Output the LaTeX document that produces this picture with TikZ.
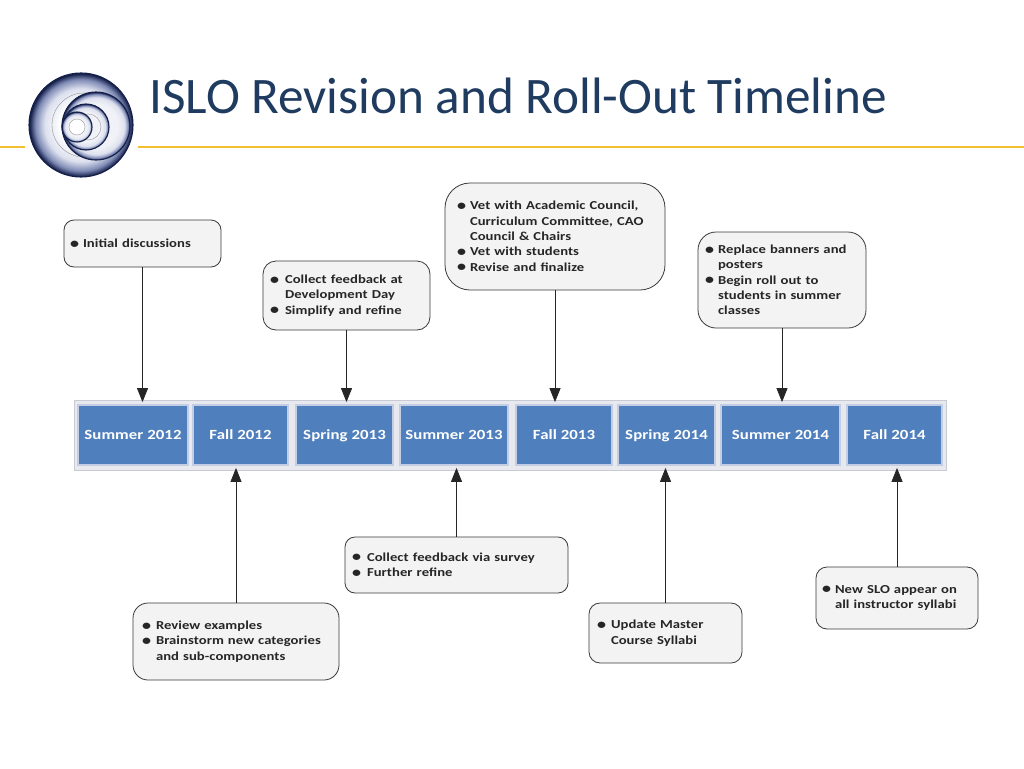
\documentclass[tikz,border=0pt]{standalone}
\usepackage{fontspec}
\setmainfont{Carlito}
\newfontfamily\bodyf[FakeStretch=1.2,LetterSpace=0.5]{Carlito}
\usetikzlibrary{arrows.meta}
\definecolor{titleblue}{HTML}{1F3B5F}
\definecolor{rulegold}{HTML}{F2BF2E}
\definecolor{cellblue}{HTML}{4F7FBC}
\definecolor{cellglow}{HTML}{C3CEE4}
\definecolor{stripfill}{HTML}{E8E9EF}
\definecolor{stripline}{HTML}{C8CAD4}
\definecolor{bubblefill}{HTML}{F3F3F3}
\definecolor{bubbleline}{HTML}{3A3A3A}
\definecolor{logodark}{HTML}{15204A}
\definecolor{logomid}{HTML}{7F8BB6}
\definecolor{logolight}{HTML}{DDE1EE}
\definecolor{logopale}{HTML}{F0F2F7}
\pgfdeclareradialshading{logoouter}{\pgfpointorigin}{color(0bp)=(white); color(10bp)=(white); color(17.5bp)=(logolight); color(22bp)=(logomid); color(24.7bp)=(logodark); color(25bp)=(logodark); color(50bp)=(logodark)}
\pgfdeclareradialshading{logoring}{\pgfpointorigin}{color(0bp)=(logopale); color(16bp)=(logopale); color(21bp)=(logolight); color(23.5bp)=(logomid); color(24.8bp)=(logodark); color(25bp)=(logodark); color(50bp)=(logodark)}
\newcommand{\bl}[1]{\makebox[#1pt][l]{\fontsize{15}{15}\selectfont\raisebox{-0.6pt}{•}}}
\newcommand{\ind}[1]{\hspace*{#1pt}}
\tikzset{
  x=1pt,y=-1pt,
  bubble/.style n args={3}{draw=bubbleline,line width=0.8pt,fill=bubblefill,rounded corners=#3pt,
    minimum width=#1pt,minimum height=#2pt,text width={#1pt-2*\pgfkeysvalueof{/pgf/inner xsep}},
    align=left,anchor=center,inner ysep=0pt,
    font=\fontsize{12.2}{15.35}\bodyf\bfseries,text=black!85},
  cell/.style={fill=cellblue,draw=cellglow,line width=1.8pt,text=white,minimum height=60pt,inner sep=0pt,
    text height=10.5pt,text depth=1.5pt,
    font=\fontsize{14}{15}\bodyf\bfseries},
  strip/.style={fill=stripfill,draw=stripline,line width=0.8pt,inner sep=0pt},
  conn/.style={draw=black!85,line width=0.8pt,-{Triangle[length=14pt,width=11pt]},shorten >=2pt},
  goldrule/.style={draw=rulegold,line width=2pt},
  logoedge/.style={draw=logodark,line width=1.1pt},
  logothin/.style={draw=black!45,line width=0.35pt},
}
\begin{document}
\begin{tikzpicture}
\useasboundingbox (0,0) rectangle (1024,768);
\fill[white] (0,0) rectangle (1024,768);
% header
\coordinate (ruleL0) at (0,147);
\coordinate (ruleL1) at (25,147);
\coordinate (ruleR0) at (138,147);
\coordinate (ruleR1) at (1024,147);
\draw[goldrule] (ruleL0) -- (ruleL1);
\draw[goldrule] (ruleR0) -- (ruleR1);
\node[anchor=west,inner sep=0pt,text=titleblue,font=\fontsize{51.2}{53}\selectfont] (title) at (149,96) {ISLO Revision and Roll-Out Timeline};
% logo
\shade[shading=logoouter] (81,125) circle (52);
\draw[logoedge] (81,125) circle (52);
\draw[logothin] (84,125) circle (32);
\shade[shading=logoring] (96,126) circle (34);
\draw[logoedge] (96,126) circle (34);
\shade[shading=logoring] (86,127) circle (23);
\draw[logoedge] (86,127) circle (23);
\draw[logothin] (88,127) circle (13);
\shade[shading=logoring] (77,127) circle (15);
\draw[logoedge] (77,127) circle (15);
\draw[logothin,fill=white] (77,127) circle (8);
% timeline
\node[strip,minimum width=872pt,minimum height=70pt] (strip) at (510,435) {};
\node[cell,minimum width=110pt] (c1) at (133,435) {Summer 2012};
\node[cell,minimum width=95pt] (c2) at (240.5,435) {Fall 2012};
\node[cell,minimum width=97pt] (c3) at (344.5,435) {Spring 2013};
\node[cell,minimum width=108pt] (c4) at (454,435) {Summer 2013};
\node[cell,minimum width=96pt] (c5) at (564,435) {Fall 2013};
\node[cell,minimum width=97pt] (c6) at (666.5,435) {Spring 2014};
\node[cell,minimum width=119pt] (c7) at (780.5,435) {Summer 2014};
\node[cell,minimum width=95pt] (c8) at (894.5,435) {Fall 2014};
% bubbles
\node[bubble={157}{47}{10},inner xsep=6pt] (bA) at (142.5,243.5) {\bl{13}Initial discussions};
\node[bubble={167}{69}{13},inner xsep=7pt] (bB) at (346.5,295.5) {\bl{15}Collect feedback at\\\ind{15}Development Day\\\bl{15}Simplify and refine};
\node[bubble={220}{107}{25},inner xsep=12pt] (bC) at (555,236.5) {\bl{13}Vet with Academic Council,\\\ind{13}Curriculum Committee, CAO\\\ind{13}Council \& Chairs\\\bl{13}Vet with students\\\bl{13}Revise and finalize};
\node[bubble={168}{96}{18},inner xsep=7pt] (bD) at (782,280) {\bl{13}Replace banners and\\\ind{13}posters\\\bl{13}Begin roll out to\\\ind{13}students in summer\\\ind{13}classes};
\node[bubble={206}{77}{15},inner xsep=9pt] (bE) at (236,641.5) {\bl{14}Review examples\\\bl{14}Brainstorm new categories\\\ind{14}and sub-components};
\node[bubble={223}{56}{10},inner xsep=7pt] (bF) at (456.5,565) {\bl{15}Collect feedback via survey\\\bl{15}Further refine};
\node[bubble={153}{60}{11},inner xsep=8pt] (bG) at (665.5,633) {\bl{14}Update Master\\\ind{14}Course Syllabi};
\node[bubble={162}{62}{11},inner xsep=6pt] (bH) at (897,598) {\bl{13}New SLO appear on\\\ind{13}all instructor syllabi};
% connectors
\draw[conn] (bA.south) -- (bA.south |- c1.north);
\draw[conn] (bB.south) -- (bB.south |- c3.north);
\draw[conn] (bC.south) -- (bC.south |- c5.north);
\draw[conn] (bD.south) -- (bD.south |- c7.north);
\draw[conn] (bE.north) -- (bE.north |- c2.south);
\draw[conn] (bF.north) -- (bF.north |- c4.south);
\draw[conn] (bG.north) -- (bG.north |- c6.south);
\draw[conn] (bH.north) -- (bH.north |- c8.south);
\end{tikzpicture}
\end{document}
